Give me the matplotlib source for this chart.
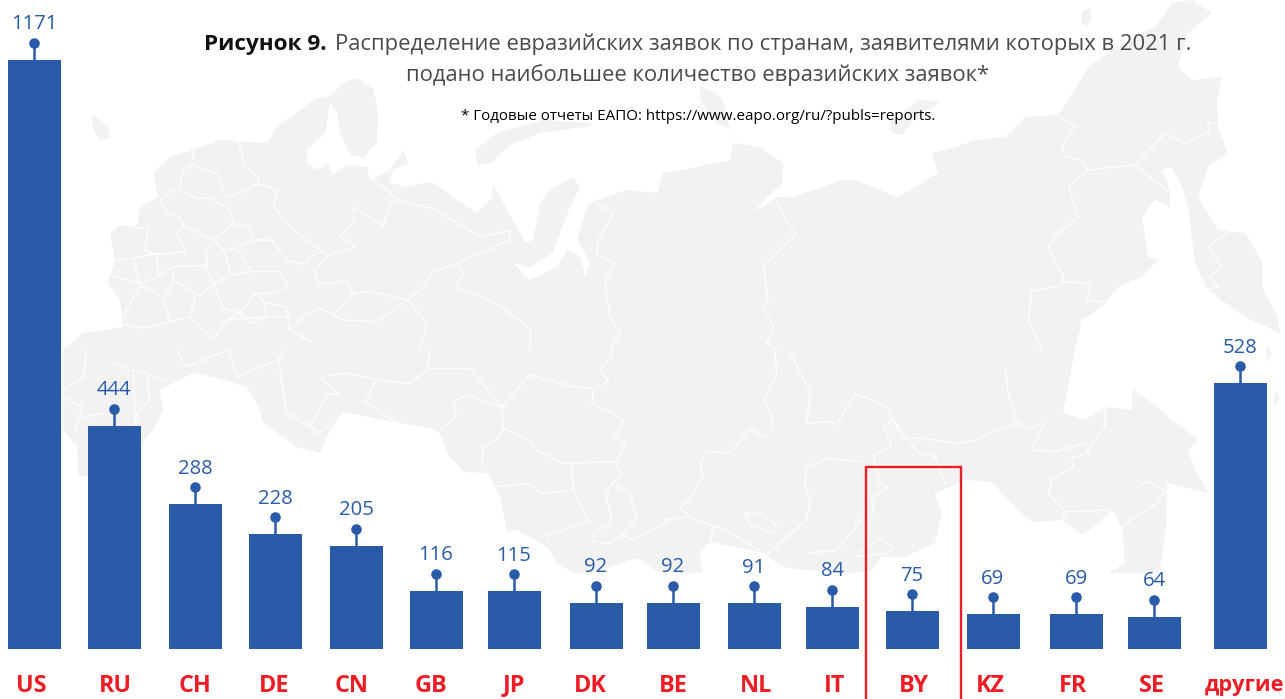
import matplotlib
matplotlib.use("Agg")
import matplotlib.pyplot as plt

plt.rcParams['font.family'] = ['Open Sans', 'DejaVu Sans']

# данные
countries = ['US', 'RU', 'CH', 'DE', 'CN', 'GB', 'JP', 'DK', 'BE', 'NL', 'IT', 'BY', 'KZ', 'FR', 'SE', 'другие']
values = [1171, 444, 288, 228, 205, 116, 115, 92, 92, 91, 84, 75, 69, 69, 64, 528]

# раскладка (пиксели картинки)
bar_x = [34.5, 114.5, 195.5, 275.5, 356.5, 436.5, 514.5, 596.5, 673.5, 754.5, 832.5, 912.5, 993.5, 1076.5, 1154.5, 1240.5]
label_x = [31, 115, 195, 274, 352, 431, 514, 590, 673, 756, 835, 914, 990, 1073, 1152, 1244]
bar_width = 53
base_y = 649
px_per_unit = 589 / 1171
stem_px = 17

BLUE = '#2A5BA8'
RED = '#EE1C25'
MAP_GREY = '#F2F2F2'

# фон: контур карты, только декорация
mainland = [
    (63, 350), (83, 333), (123, 327), (120, 300), (108, 283), (115, 260), (110, 233), (123, 225), (137, 227),
    (140, 207), (158, 197), (153, 173), (170, 157), (193, 150), (220, 140), (267, 143), (277, 127), (293, 115),
    (317, 98), (333, 95), (342, 83), (357, 78), (373, 88), (378, 110), (377, 143), (363, 158), (350, 155),
    (340, 133), (337, 113), (330, 103), (328, 117), (325, 133), (307, 150), (307, 163), (317, 170), (328, 163),
    (333, 175), (347, 165), (367, 167), (370, 180), (390, 170), (403, 150), (408, 163), (393, 170), (390, 183),
    (407, 187), (430, 182), (440, 187), (457, 200), (477, 213), (493, 197), (492, 183), (513, 220), (525, 243),
    (533, 240), (540, 203), (550, 190), (573, 177), (580, 187), (570, 207), (560, 233), (553, 253), (530, 267),
    (513, 263), (530, 280), (557, 267), (567, 250), (580, 257), (585, 277), (590, 262), (577, 240), (587, 207),
    (597, 200), (627, 190), (657, 193), (663, 173), (697, 167), (730, 160), (733, 143), (760, 147), (783, 163),
    (783, 183), (767, 197), (753, 213), (777, 197), (793, 197), (843, 180), (855, 180), (898, 197), (938, 173),
    (932, 153), (955, 147), (975, 140), (1005, 137), (1025, 117), (1058, 115), (1075, 90), (1088, 67), (1112, 50),
    (1155, 27), (1172, 3), (1192, 0), (1212, 13), (1188, 33), (1178, 67), (1192, 80), (1222, 77), (1217, 100),
    (1218, 127), (1228, 153), (1208, 167), (1198, 197), (1218, 230), (1245, 233), (1263, 263), (1262, 287),
    (1278, 317), (1280, 333), (1245, 317), (1208, 290), (1195, 263), (1188, 207), (1182, 187), (1172, 167),
    (1162, 170), (1170, 190), (1170, 207), (1155, 200), (1142, 217), (1148, 257), (1158, 260), (1142, 277),
    (1118, 287), (1102, 307), (1082, 320), (1075, 350), (1063, 413), (1085, 420), (1105, 407), (1132, 410),
    (1132, 388), (1198, 440), (1188, 450), (1195, 470), (1208, 493), (1167, 483), (1167, 523), (1160, 570),
    (1158, 573), (1108, 573), (1125, 563), (1122, 527), (1112, 510), (1098, 523), (1082, 535), (1062, 520),
    (1032, 522), (1015, 507), (992, 482), (965, 480), (935, 493), (942, 513), (935, 543), (905, 557), (882, 557),
    (872, 570), (855, 573), (807, 570), (783, 567), (763, 553), (710, 542), (700, 553), (703, 573), (660, 573),
    (637, 558), (610, 567), (593, 573), (573, 573), (557, 563), (547, 547), (517, 530), (507, 532), (500, 497),
    (488, 473), (463, 472), (447, 453), (440, 433), (430, 428), (383, 420), (343, 412), (330, 430), (320, 453),
    (297, 447), (263, 423), (257, 403), (247, 387), (217, 378), (193, 373), (160, 390), (163, 410), (153, 430),
    (120, 470), (87, 477), (78, 475), (77, 447), (63, 430),
]
islands = [
    [(92, 115), (100, 120), (108, 127), (110, 138), (99, 140), (93, 128)],
    [(475, 150), (497, 133), (543, 120), (593, 123), (590, 126), (540, 133), (510, 145), (490, 163), (478, 165)],
    [(700, 85), (712, 92), (723, 100), (730, 130), (716, 122), (700, 100)],
    [(890, 122), (920, 100), (940, 102), (915, 118), (902, 135), (892, 133)],
    [(1082, 12), (1090, 8), (1092, 18), (1086, 27), (1081, 22)],
    [(1138, 75), (1160, 70), (1175, 78), (1160, 85), (1145, 82)],
    [(1268, 345), (1272, 355), (1266, 362)],
    [(1276, 390), (1279, 400), (1273, 408)],
]

# границы регионов: смещение кропа и точки в масштабе 3x
border_groups = [
    (0, 0, [
        [(715, 425), (735, 500), (775, 530), (775, 550), (830, 570), (820, 620), (880, 690), (960, 750), (985, 765),
         (1070, 740), (1020, 710), (1065, 660), (1060, 620), (1150, 680), (1170, 610), (1195, 600), (1115, 530)],
        [(1195, 600), (1290, 625)],
        [(580, 450), (575, 495), (650, 520), (680, 590), (730, 575), (775, 550)],
        [(575, 495), (550, 510), (535, 570), (590, 595), (630, 595), (690, 630), (700, 670), (750, 680), (760, 720),
         (815, 720), (860, 780), (915, 795), (925, 770), (970, 755)],
        [(525, 565), (480, 600), (500, 640), (540, 650), (550, 675), (640, 720), (700, 670)],
        [(410, 685), (445, 685), (435, 750), (470, 765), (555, 755), (530, 700), (550, 675)],
        [(640, 720), (615, 760), (625, 795), (520, 800), (475, 830), (470, 765)],
        [(640, 720), (670, 750), (710, 745), (760, 720)],
        [(670, 750), (695, 825), (640, 850), (615, 795)],
        [(710, 745), (755, 815), (695, 825)],
        [(755, 815), (840, 815), (865, 860), (810, 880), (765, 880), (720, 940), (670, 925), (640, 850), (600, 890),
         (520, 840), (520, 800)],
        [(340, 780), (400, 775), (470, 760)],
        [(400, 775), (420, 850), (480, 830)],
        [(420, 850), (325, 825)],
        [(420, 860), (370, 945)],
        [(420, 860), (450, 865), (490, 900), (510, 965), (430, 985), (375, 975)],
        [(490, 900), (520, 840)],
        [(585, 890), (570, 950), (510, 965)],
        [(570, 950), (640, 1020), (680, 960), (720, 940)],
        [(680, 960), (800, 950), (870, 950)],
        [(720, 940), (750, 970), (800, 950), (790, 900), (765, 880)],
        [(800, 910), (860, 920), (870, 990), (940, 1030)],
        [(870, 990), (920, 940), (960, 925), (1000, 945), (1060, 880), (1040, 840), (1000, 850), (950, 850), (945, 810),
         (985, 765)],
        [(1060, 880), (1110, 875), (1225, 900), (1270, 860), (1290, 830)],
        [(1225, 900), (1280, 970), (1260, 1050)],
        [(1000, 945), (1030, 960), (1130, 965), (1225, 900)],
    ]),
    (430, 0, [
        [(0, 620), (150, 710), (240, 690), (240, 720), (80, 790), (0, 820)],
        [(80, 790), (100, 820), (80, 860), (200, 910), (300, 985), (300, 1050)],
        [(500, 610), (550, 640), (505, 720), (500, 760), (555, 790), (525, 850), (540, 950), (570, 1000), (540, 1050)],
        [(1040, 600), (1060, 650), (1100, 700), (1000, 800), (1015, 900), (1000, 920), (1030, 980), (1010, 1030),
         (1050, 1050)],
    ]),
    (855, 0, [
        [(615, 350), (660, 380), (620, 440), (630, 470), (680, 480), (700, 510), (840, 495), (930, 400), (990, 430),
         (1060, 395), (1060, 370), (1090, 370)],
        [(840, 495), (940, 575)],
        [(700, 510), (640, 560), (670, 650), (610, 700), (580, 740), (625, 830), (620, 855), (530, 875), (520, 960),
         (560, 1050)],
        [(620, 845), (710, 850), (695, 900), (745, 905)],
        [(1060, 740), (1130, 690)],
        [(1060, 740), (1100, 800), (1065, 830), (1090, 860), (1050, 870)],
    ]),
    (855, 350, [
        [(450, 50), (460, 130), (485, 215), (520, 235), (570, 220), (530, 300), (600, 305), (690, 280), (700, 310),
         (650, 325), (655, 350), (590, 390), (580, 430), (630, 485), (770, 480)],
        [(485, 215), (360, 270), (310, 280), (200, 265), (140, 265), (115, 210), (95, 170), (50, 150), (0, 130)],
        [(115, 210), (85, 230), (110, 290), (55, 315), (75, 400), (100, 410), (50, 450), (55, 490), (0, 520)],
        [(115, 210), (190, 310), (240, 320), (270, 400)],
        [(850, 410), (880, 395), (930, 420), (905, 460), (820, 515), (800, 540)],
        [(7, 610), (75, 565), (115, 590), (100, 610), (7, 620)],
        [(700, 300), (750, 230), (750, 170)],
        [(630, 490), (620, 515)],
    ]),
    (430, 350, [
        [(0, 55), (120, 55), (215, 170), (220, 235), (300, 270), (320, 300), (400, 340), (555, 335), (575, 375),
         (545, 400), (530, 440), (545, 515), (495, 550), (490, 575), (540, 580), (575, 555), (610, 570), (690, 530),
         (710, 510), (780, 500), (850, 530), (840, 575)],
        [(215, 170), (110, 135), (70, 155), (80, 200), (30, 240)],
        [(215, 170), (300, 75), (430, 110), (490, 115), (485, 160), (550, 190), (580, 210), (555, 260), (585, 280),
         (560, 335)],
        [(490, 115), (535, 95), (510, 60), (545, 20), (545, 0)],
        [(220, 235), (200, 270), (160, 290), (155, 350)],
        [(425, 340), (430, 420), (335, 430), (295, 400), (200, 410)],
        [(430, 420), (475, 515), (355, 555), (355, 575)],
        [(545, 400), (600, 430), (620, 505), (575, 555)],
        [(1035, 0), (1040, 70), (1000, 150), (1025, 190), (1025, 240), (1000, 260), (960, 235), (900, 310), (830, 305),
         (810, 340), (820, 375), (780, 450), (750, 470), (780, 500)],
        [(850, 530), (880, 535), (1010, 615), (1060, 570), (1130, 510), (1140, 450), (1125, 400), (1130, 350),
         (1190, 325), (1290, 335)],
        [(1075, 0), (1140, 125), (1130, 220), (1200, 215), (1220, 225), (1270, 140), (1290, 135)],
        [(945, 490), (990, 490), (1040, 525), (1030, 550), (960, 525), (945, 490)],
        [(1135, 610), (1220, 600), (1290, 515)],
    ]),
    (0, 350, [
        [(190, 120), (250, 80), (260, 0)],
        [(190, 140), (245, 170), (225, 250)],
        [(250, 205), (300, 190), (340, 200)],
        [(340, 40), (390, 60), (440, 70), (500, 95)],
        [(400, 60), (405, 230)],
        [(440, 70), (450, 150), (410, 190), (405, 230)],
        [(530, 0), (560, 50), (685, 0)],
        [(685, 0), (710, 80), (835, 30), (850, 0)],
        [(835, 30), (860, 190), (930, 230), (985, 130), (1020, 135), (965, 85), (985, 75), (1050, 70), (1130, 90),
         (1095, 155), (1200, 225)],
        [(1130, 90), (1230, 100), (1280, 60), (1290, 0)],
        [(930, 220), (950, 250), (1000, 220)],
    ]),
]

W, H = 1285, 699
fig = plt.figure(figsize=(W / 100, H / 100), dpi=100, facecolor='white')

# слой в пикселях: карта, заголовок, рамка, подписи
ax_px = fig.add_axes([0, 0, 1, 1], zorder=1)
ax_px.set_xlim(0, W)
ax_px.set_ylim(H, 0)
ax_px.axis('off')

ax_px.fill(*zip(*mainland), color=MAP_GREY, lw=0)
for isl in islands:
    ax_px.fill(*zip(*isl), color=MAP_GREY, lw=0)
for ox, oy, lines in border_groups:
    for line in lines:
        xs = [ox + p[0] / 3 for p in line]
        ys = [oy + p[1] / 3 for p in line]
        ax_px.plot(xs, ys, color='white', lw=0.9, solid_joinstyle='round')

ax_px.text(204, 50, 'Рисунок 9.', fontsize=16.2, fontweight='bold', color='#111111', va='baseline', ha='left')
ax_px.text(335, 50, 'Распределение евразийских заявок по странам, заявителями которых в 2021 г.',
           fontsize=15.85, color='#4a4a4a', va='baseline', ha='left')
ax_px.text(698, 81.5, 'подано наибольшее количество евразийских заявок*', fontsize=15.85, color='#4a4a4a',
           va='baseline', ha='center')
ax_px.text(698, 120, '* Годовые отчеты ЕАПО: https://www.eapo.org/ru/?publs=reports.', fontsize=10.9,
           color='black', va='baseline', ha='center')

# слой с данными
ax = fig.add_axes([0, 0, 1, 1], zorder=2)
ax.patch.set_alpha(0)
ax.set_xlim(0, W)
ax.set_ylim(-(H - base_y) / px_per_unit, base_y / px_per_unit)
ax.axis('off')

ax.bar(bar_x, values, width=bar_width, color=BLUE, linewidth=0)
stem = stem_px / px_per_unit
for x, v in zip(bar_x, values):
    ax.plot([x - 0.5, x - 0.5], [v, v + stem], color=BLUE, lw=1.8, solid_capstyle='butt')
    ax.plot([x - 0.5], [v + stem], 'o', color=BLUE, ms=7.6, mew=0)
    ax.annotate(str(v), (x - 0.5, v + stem), xytext=(0, 13.4), textcoords='offset points', ha='center', va='center',
                fontsize=14.6, color=BLUE)

for x, name in zip(label_x, countries):
    # «другие» в оригинале чуть уже и упирается в правый край
    size = 15.7 if name == 'другие' else 16.8
    ax_px.text(x, 685.5, name, fontsize=size, fontweight='bold', color=RED, ha='center', va='center', zorder=5)

# рамка вокруг BY
ax_px.plot([866, 866, 961, 961], [700, 466.5, 466.5, 700], color=RED, lw=1.7, solid_joinstyle='miter', zorder=5)

fig.savefig('out.png', dpi=100)
